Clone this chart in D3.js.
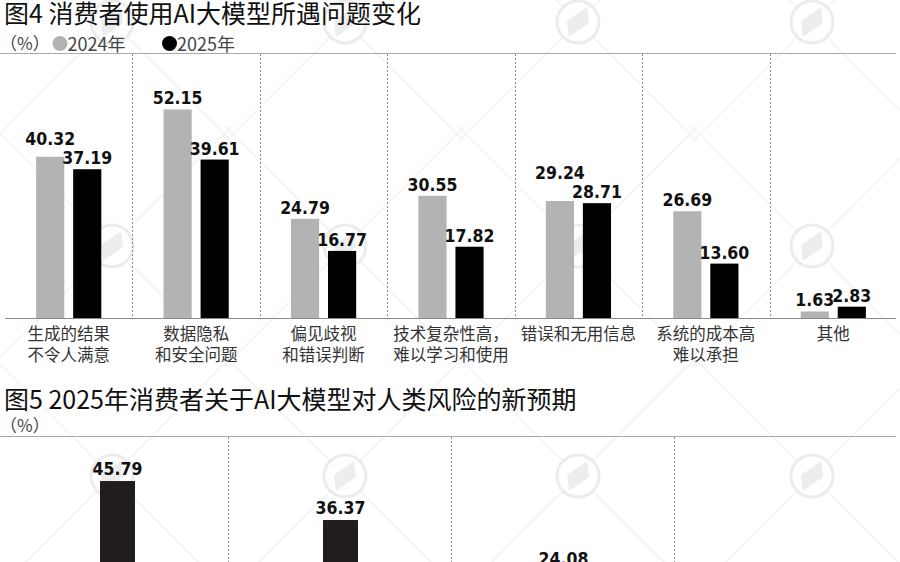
<!DOCTYPE html>
<html>
<head>
<meta charset="utf-8">
<script src="https://cdn.jsdelivr.net/npm/d3@7/dist/d3.min.js"></script>
<style>
  html, body { margin: 0; padding: 0; background: #fff; }
  svg { display: block; }
  .cjk { font-family: "Noto Sans CJK SC", "Noto Sans", sans-serif; }
  .num { font-family: "DejaVu Sans Condensed", "DejaVu Sans", sans-serif; font-weight: bold; }
</style>
</head>
<body>
<svg id="chart" width="900" height="562"></svg>
<script>
// ---------- data ----------
const fig4Title = "图4 消费者使用AI大模型所遇问题变化";
const fig4Categories = ["生成的结果\n不令人满意", "数据隐私\n和安全问题", "偏见歧视\n和错误判断",
  "技术复杂性高，\n难以学习和使用", "错误和无用信息", "系统的成本高\n难以承担", "其他"];
const seriesNames = ["2024年", "2025年"];
const values2024 = [40.32, 52.15, 24.79, 30.55, 29.24, 26.69, 1.63];
const values2025 = [37.19, 39.61, 16.77, 17.82, 28.71, 13.60, 2.83];
const unitLabel = "（%）";

const fig5Title = "图5 2025年消费者关于AI大模型对人类风险的新预期";
const fig5Slots = ["1", "2", "3", "4"];
const fig5Values = [45.79, 36.37, 24.08];

// ---------- setup ----------
const svg = d3.select("#chart");
const W = 900, H = 562;
const fmt = d3.format(".2f");
const colors = ["#b3b3b3", "#000000"];

// watermark layer
const wm = svg.append("g");
const wmX = [112, 345, 578, 812], wmY = [22, 246, 476];
wmX.forEach(cx => wmY.forEach(cy => {
  [1, -1].forEach(s => {
    wm.append("line").attr("x1", cx - 120).attr("y1", cy - 120 * s)
      .attr("x2", cx + 120).attr("y2", cy + 120 * s)
      .attr("stroke", "#f3f3f3").attr("stroke-width", 1.5);
  });
}));
wmX.forEach(cx => wmY.forEach(cy => {
  wm.append("circle").attr("cx", cx).attr("cy", cy).attr("r", 21)
    .attr("fill", "#fff").attr("stroke", "#ececec").attr("stroke-width", 3);
  wm.append("path").attr("d", `M${cx + 9},${cy - 15} L${cx + 11},${cy + 1} L${cx - 9},${cy + 15} L${cx - 11},${cy - 1} Z`)
    .attr("fill", "#ededed");
}));

// ---------- Figure 4 ----------
const f4 = svg.append("g");
f4.append("text").attr("class", "cjk").attr("x", 4).attr("y", 23)
  .attr("font-size", 25).attr("fill", "#111").text(fig4Title);

f4.append("text").attr("class", "cjk").attr("x", 0).attr("y", 49.5)
  .attr("font-size", 17).attr("fill", "#444").text(unitLabel);

const legendX = [60, 169.5];
seriesNames.forEach((name, i) => {
  f4.append("circle").attr("cx", legendX[i]).attr("cy", 43.5).attr("r", 7.5).attr("fill", colors[i]);
  f4.append("text").attr("class", "cjk").attr("x", legendX[i] + 7.5).attr("y", 50.5)
    .attr("font-size", 18).attr("fill", "#444").text(name);
});

const x4 = d3.scaleBand().domain(fig4Categories).range([5, 897]).paddingInner(0).paddingOuter(0);
const xs4 = d3.scaleBand().domain(seriesNames).range([0, x4.bandwidth()]).paddingInner(0.24).paddingOuter(0.84);
const y4 = d3.scaleLinear().domain([0, 60]).range([318, 78]);

// top rule
f4.append("line").attr("x1", 0).attr("x2", 896).attr("y1", 53.5).attr("y2", 53.5)
  .attr("stroke", "#aaa").attr("stroke-width", 1);
// separators
fig4Categories.slice(1).forEach(c => {
  const xx = Math.round(x4(c)) + 0.5;
  f4.append("line").attr("x1", xx).attr("x2", xx).attr("y1", 54).attr("y2", 318)
    .attr("stroke", "#8a8a8a").attr("stroke-width", 1).attr("stroke-dasharray", "2,2");
});

const seriesVals = [values2024, values2025];
const groups = f4.selectAll("g.cat").data(fig4Categories).join("g")
  .attr("class", "cat").attr("transform", d => `translate(${x4(d)},0)`);

seriesNames.forEach((s, si) => {
  groups.append("rect")
    .attr("x", xs4(s)).attr("width", xs4.bandwidth())
    .attr("y", (d, i) => y4(seriesVals[si][i]))
    .attr("height", (d, i) => y4(0) - y4(seriesVals[si][i]))
    .attr("fill", colors[si]);
});

// value labels with collision handling
groups.each(function (d, i) {
  const g = d3.select(this);
  const labels = seriesNames.map((s, si) => {
    const v = seriesVals[si][i];
    return g.append("text").attr("class", "num")
      .attr("x", xs4(s) + xs4.bandwidth() / 2)
      .attr("y", y4(v) - 5)
      .attr("text-anchor", "middle")
      .attr("font-size", 17.5).attr("fill", "#111")
      .text(fmt(v));
  });
  const b0 = labels[0].node().getBBox(), b1 = labels[1].node().getBBox();
  const hOverlap = b0.x + b0.width > b1.x + 4;
  const vOverlap = !(b0.y + b0.height < b1.y || b1.y + b1.height < b0.y);
  if (hOverlap && vOverlap) {
    labels[0].attr("y", +labels[1].attr("y") - 19);
  }
});

// baseline
f4.append("line").attr("x1", 5).attr("x2", 896).attr("y1", 318.5).attr("y2", 318.5)
  .attr("stroke", "#888").attr("stroke-width", 1);

// category labels
groups.append("text").attr("class", "cjk")
  .attr("text-anchor", "middle").attr("font-size", 16.5).attr("fill", "#333")
  .attr("transform", `translate(${x4.bandwidth() / 2},0)`)
  .selectAll("tspan").data(d => d.split("\n")).join("tspan")
  .attr("x", 0).attr("y", (d, j) => 340 + j * 21).text(d => d);

// ---------- Figure 5 ----------
const f5 = svg.append("g");
f5.append("text").attr("class", "cjk").attr("x", 4).attr("y", 409)
  .attr("font-size", 25).attr("fill", "#111").text(fig5Title);
f5.append("text").attr("class", "cjk").attr("x", 0).attr("y", 431.5)
  .attr("font-size", 17).attr("fill", "#444").text(unitLabel);

f5.append("line").attr("x1", 0).attr("x2", 896).attr("y1", 436.5).attr("y2", 436.5)
  .attr("stroke", "#aaa").attr("stroke-width", 1);

const x5 = d3.scaleBand().domain(fig5Slots).range([5, 897]).paddingInner(0).paddingOuter(0);
const y5 = d3.scaleLinear().domain([0, 50]).range([670.6, 463.6]);
const barW5 = 35;

fig5Slots.slice(1).forEach(c => {
  const xx = Math.round(x5(c)) + 0.5;
  f5.append("line").attr("x1", xx).attr("x2", xx).attr("y1", 437).attr("y2", H)
    .attr("stroke", "#8a8a8a").attr("stroke-width", 1).attr("stroke-dasharray", "2,2");
});

const bars5 = f5.selectAll("g.b5").data(fig5Values).join("g").attr("class", "b5")
  .attr("transform", (d, i) => `translate(${x5(fig5Slots[i]) + x5.bandwidth() / 2 + 1},0)`);
bars5.append("rect").attr("x", -barW5 / 2).attr("width", barW5)
  .attr("y", d => y5(d)).attr("height", d => y5(0) - y5(d)).attr("fill", "#231c1c");
bars5.append("text").attr("class", "num").attr("text-anchor", "middle")
  .attr("y", d => y5(d) - 6).attr("font-size", 17.5).attr("fill", "#111").text(d => fmt(d));
</script>
</body>
</html>
